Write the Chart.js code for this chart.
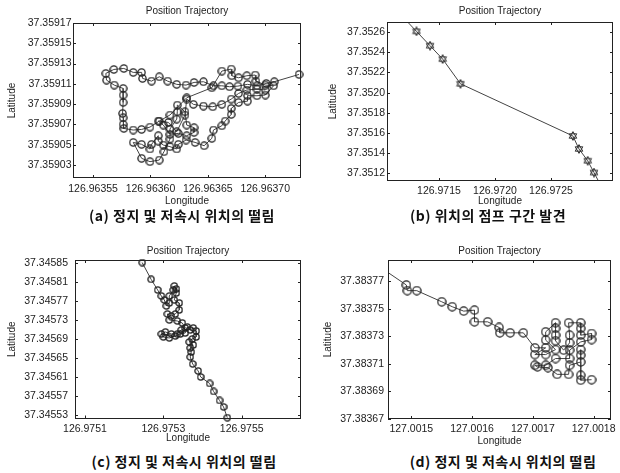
<!DOCTYPE html>
<html>
<head>
<meta charset="utf-8">
<script src="https://cdn.jsdelivr.net/npm/chart.js@4.4.1/dist/chart.umd.min.js"></script>
<style>
  html, body { margin: 0; padding: 0; background: #fff; }
  body { width: 620px; height: 473px; position: relative; overflow: hidden; }
  canvas { position: absolute; }
  .cap {
    position: absolute; white-space: nowrap; transform: translateX(-50%);
    font-family: "Noto Sans CJK KR", sans-serif; font-weight: 700; font-size: 14px;
    color: #111; line-height: 20px; letter-spacing: 0.5px;
  }
</style>
</head>
<body>
<canvas id="pa" width="310" height="212" style="left:0;top:0"></canvas>
<canvas id="pb" width="310" height="212" style="left:310px;top:0"></canvas>
<canvas id="pc" width="310" height="214" style="left:0;top:236px"></canvas>
<canvas id="pd" width="310" height="214" style="left:310px;top:236px"></canvas>
<div class="cap" style="left:182px;top:205px">(a) 정지 및 저속시 위치의 떨림</div>
<div class="cap" style="left:488px;top:205px">(b) 위치의 점프 구간 발견</div>
<div class="cap" style="left:184px;top:451px">(c) 정지 및 저속시 위치의 떨림</div>
<div class="cap" style="left:503px;top:451px">(d) 정지 및 저속시 위치의 떨림</div>
<script>
// ---- (a) stop / low-speed jitter ----
const aLon = [126.9637295, 126.9637079, 126.9637009, 126.9636928, 126.9636846, 126.9636762, 126.9636689, 126.9636622, 126.9636549, 126.9636462,
  126.963638, 126.963631, 126.9636229, 126.963615, 126.9636077, 126.963601, 126.9635931, 126.9635923, 126.963585, 126.9635768,
  126.9635681, 126.9635611, 126.9635617, 126.9635684, 126.9635762, 126.9635762, 126.9635762, 126.9635757, 126.9635762, 126.9635762,
  126.9635768, 126.963585, 126.9635923, 126.9635996, 126.9636077, 126.963617, 126.9636316, 126.9636535, 126.9636622, 126.9636704,
  126.9636709, 126.9636768, 126.963684, 126.9636913, 126.9636919, 126.9637001, 126.9637073, 126.9637001, 126.9636928, 126.9636846,
  126.9636846, 126.9636768, 126.9636704, 126.9636704, 126.9636651, 126.9636622, 126.9636549, 126.9636535, 126.9636468, 126.9636389,
  126.963631, 126.9636243, 126.9636229, 126.963617, 126.9636112, 126.9636068, 126.9636068, 126.963601, 126.9635996, 126.9635923,
  126.963585, 126.9635923, 126.9635996, 126.9636077, 126.9636118, 126.963617, 126.963617, 126.9636229, 126.9636234, 126.9636234,
  126.9636301, 126.9636316, 126.963638, 126.963638, 126.9636316, 126.9636243, 126.963617, 126.9636112, 126.9636068, 126.9636156,
  126.9636229, 126.9636301, 126.9636316, 126.9636374, 126.9636462, 126.9636543, 126.9636622, 126.9636704, 126.9636768, 126.963684,
  126.9636928, 126.9637001];
const aLat = [37.3591193, 37.3591121, 37.3591104, 37.3591081, 37.3591095, 37.3591078, 37.3591072, 37.3591081, 37.3591081, 37.3591121,
  37.3591114, 37.3591088, 37.3591095, 37.3591127, 37.359117, 37.3591127, 37.3591154, 37.3591213, 37.3591213, 37.3591252,
  37.3591242, 37.3591203, 37.3591137, 37.3591088, 37.3591055, 37.359099, 37.3590917, 37.3590809, 37.3590766, 37.3590701,
  37.3590661, 37.3590645, 37.3590651, 37.3590674, 37.3590733, 37.3590793, 37.3590963, 37.3591062, 37.3591226, 37.3591246,
  37.359118, 37.359116, 37.359118, 37.3591187, 37.3591127, 37.3591088, 37.3591081, 37.359099, 37.3590983, 37.3590983,
  37.359093, 37.3590917, 37.3590858, 37.3590799, 37.3590733, 37.3590687, 37.3590645, 37.3590563, 37.359049, 37.3590523,
  37.3590546, 37.3590504, 37.3590458, 37.3590481, 37.3590497, 37.3590536, 37.3590589, 37.3590504, 37.3590458, 37.3590504,
  37.3590523, 37.3590366, 37.3590333, 37.3590349, 37.3590431, 37.3590556, 37.3590655, 37.3590753, 37.3590825, 37.3590891,
  37.3590825, 37.3590694, 37.3590668, 37.3590622, 37.3590589, 37.3590612, 37.3590602, 37.3590694, 37.3590733, 37.359072,
  37.3590628, 37.3590793, 37.359095, 37.3590898, 37.3590881, 37.3590875, 37.3590898, 37.359095, 37.3591006, 37.3591039,
  37.3591049, 37.3591039];
const aLonTicks = [126.96355, 126.96360, 126.96365, 126.96370];
const aLatTicks = [37.35903, 37.35905, 37.35907, 37.35909, 37.35911, 37.35913, 37.35915, 37.35917];

// ---- (b) position jump ----
const bLon = [126.971133, 126.971299, 126.971420, 126.971533, 126.971692, 126.972696, 126.972750, 126.972828, 126.972884, 126.972967];
const bLat = [37.352804, 37.352608, 37.352466, 37.352333, 37.352088, 37.351570, 37.351441, 37.351324, 37.351207, 37.351033];
const bLonTicks = [126.9715, 126.9720, 126.9725];
const bLatTicks = [37.3512, 37.3514, 37.3516, 37.3518, 37.3520, 37.3522, 37.3524, 37.3526];

// ---- (c) stop / low-speed jitter ----
const cLon = [126.9752459, 126.9752688, 126.9752855, 126.9752949, 126.9753025, 126.9753076, 126.9753152, 126.9753152, 126.9753254, 126.9753279,
  126.975333, 126.975333, 126.9753279, 126.9753406, 126.9753406, 126.9753305, 126.9753203, 126.9753102, 126.9753152, 126.9753356,
  126.9753483, 126.9753559, 126.9753457, 126.9753356, 126.9753203, 126.9753051, 126.9752949, 126.9753, 126.9753152, 126.9753305,
  126.9753432, 126.9753559, 126.975361, 126.9753686, 126.9753762, 126.9753838, 126.9753838, 126.9753737, 126.975366, 126.9753762,
  126.9753686, 126.9753711, 126.9753686, 126.9753749, 126.9753889, 126.9753953, 126.9754181, 126.9754283, 126.9754435, 126.9754537,
  126.9754633];
const cLat = [37.3458504, 37.3458151, 37.3457927, 37.3457801, 37.3457717, 37.3457591, 37.3457654, 37.3457801, 37.3457927, 37.3458011,
  37.3457948, 37.3457864, 37.3457717, 37.3457654, 37.3457507, 37.3457423, 37.3457381, 37.3457423, 37.3457297, 37.3457276,
  37.3457234, 37.3457129, 37.3457087, 37.3457003, 37.3457003, 37.3457045, 37.3457003, 37.345694, 37.3456919, 37.3456961,
  37.3457003, 37.3457024, 37.345715, 37.3457087, 37.3457129, 37.3457066, 37.345694, 37.3456898, 37.3456835, 37.3456772,
  37.3456709, 37.3456625, 37.345652, 37.3456373, 37.3456226, 37.34561, 37.3455963, 37.3455795, 37.3455606, 37.345547,
  37.3455245];
const cLonTicks = [126.9751, 126.9753, 126.9755];
const cLatTicks = [37.34553, 37.34557, 37.34561, 37.34565, 37.34569, 37.34573, 37.34577, 37.34581, 37.34585];

// ---- (d) stop / low-speed jitter ----
const dLon = [127.0014487, 127.0014919, 127.0014935, 127.0015091, 127.0015501, 127.0015674, 127.0015862, 127.001604, 127.001604, 127.0016256,
  127.0016445, 127.0016456, 127.0016628, 127.0016844, 127.0017033, 127.0017211, 127.0017033, 127.0017211, 127.0017373, 127.0017211,
  127.0017211, 127.0017373, 127.0017373, 127.0017373, 127.0017373, 127.0017507, 127.0017604, 127.0017604, 127.0017588, 127.0017788,
  127.0017788, 127.0017788, 127.0017966, 127.0017966, 127.0017788, 127.0017604, 127.0017604, 127.0017373, 127.0017211, 127.0017033,
  127.0017076, 127.0017249, 127.00174, 127.0017588, 127.0017604, 127.0017788, 127.0017788, 127.0017788, 127.0017788, 127.0017788,
  127.0017966];
const dLat = [37.3837803, 37.3837673, 37.3837632, 37.3837632, 37.3837551, 37.3837515, 37.3837483, 37.383749, 37.3837405, 37.3837405,
  37.3837364, 37.3837325, 37.3837325, 37.3837325, 37.3837216, 37.3837216, 37.3837167, 37.3837167, 37.3837203, 37.3837272,
  37.3837332, 37.3837398, 37.3837357, 37.3837308, 37.3837267, 37.3837199, 37.3837252, 37.3837308, 37.3837398, 37.3837398,
  37.3837357, 37.3837308, 37.383732, 37.3837276, 37.3837259, 37.3837199, 37.3837138, 37.3837138, 37.3837089, 37.3837089,
  37.3837077, 37.3837072, 37.3837023, 37.3837023, 37.3837089, 37.3837113, 37.3837162, 37.3837203, 37.3837016, 37.383698,
  37.3836984];
const dLonTicks = [127.0015, 127.0016, 127.0017, 127.0018];
const dLatTicks = [37.38367, 37.38369, 37.38371, 37.38373, 37.38375, 37.38377];

const TXT = '#222';
const FONT = '"Liberation Sans", Arial, sans-serif';

// Marker: an open hexagram, or an open ring
function marker(size, ring) {
  const c = document.createElement('canvas');
  c.width = c.height = size;
  const g = c.getContext('2d');
  const cx = size / 2, cy = size / 2;
  if (ring) {
    g.strokeStyle = '#222';
    g.lineWidth = 1.3;
    g.beginPath();
    g.arc(cx, cy, size / 2 - 0.9, 0, Math.PI * 2);
    g.stroke();
    return c;
  }
  const r = size / 2 - 0.6;
  g.strokeStyle = '#333';
  g.lineWidth = 1;
  [-Math.PI / 2, Math.PI / 2].forEach(rot => {
    g.beginPath();
    for (let i = 0; i < 3; i++) {
      const a = rot + i * 2 * Math.PI / 3;
      const px = cx + r * Math.cos(a), py = cy + r * Math.sin(a);
      if (i) g.lineTo(px, py); else g.moveTo(px, py);
    }
    g.closePath();
    g.stroke();
  });
  return c;
}

// Box around the plot area with inward tick marks on all four sides, plus the panel title
const framePlugin = {
  id: 'frame',
  afterDraw(chart, _args, o) {
    const { ctx, chartArea: { left, top, right, bottom }, scales: { x, y } } = chart;
    ctx.save();
    ctx.strokeStyle = '#222';
    ctx.lineWidth = 1;
    ctx.strokeRect(Math.round(left) + 0.5, Math.round(top) + 0.5, Math.round(right - left) - 1, Math.round(bottom - top) - 1);
    const L = 3;
    ctx.beginPath();
    x.ticks.forEach(t => {
      const p = Math.round(x.getPixelForValue(t.value)) + 0.5;
      ctx.moveTo(p, bottom); ctx.lineTo(p, bottom - L);
      ctx.moveTo(p, top); ctx.lineTo(p, top + L);
    });
    y.ticks.forEach(t => {
      const p = Math.round(y.getPixelForValue(t.value)) + 0.5;
      ctx.moveTo(left, p); ctx.lineTo(left + L, p);
      ctx.moveTo(right, p); ctx.lineTo(right - L, p);
    });
    ctx.stroke();
    ctx.fillStyle = TXT;
    ctx.font = '10px ' + FONT;
    ctx.textAlign = 'center';
    ctx.textBaseline = 'middle';
    ctx.fillText('Position Trajectory', (left + right) / 2, o.titleY);
    ctx.restore();
  }
};

function panel(id, p) {
  const cv = document.getElementById(id);
  const W = cv.width, H = cv.height;
  const a = p.area;
  new Chart(cv, {
    type: 'scatter',
    data: {
      datasets: [{
        data: p.lon.map((v, i) => ({ x: v, y: p.lat[i] })),
        showLine: true,
        borderColor: '#444',
        borderWidth: 1,
        pointStyle: marker(p.mk, p.ring),
        pointRadius: p.mk / 2,
        clip: p.clip
      }]
    },
    options: {
      responsive: false,
      animation: false,
      events: [],
      devicePixelRatio: 1,
      layout: { padding: { left: 0, top: a.top, right: W - a.right, bottom: H - a.bottom - p.xH } },
      plugins: { legend: { display: false }, tooltip: { enabled: false }, frame: { titleY: p.titleY } },
      scales: {
        x: {
          type: 'linear', min: p.xMin, max: p.xMax,
          afterBuildTicks: s => { s.ticks = p.xTicks.map(v => ({ value: v })); },
          afterFit: s => { s.height = p.xH; },
          grid: { display: false, drawTicks: false },
          border: { display: false },
          ticks: { callback: v => Number(v).toFixed(p.xDec), color: TXT, font: { family: FONT, size: 10.5 }, padding: p.xPad, autoSkip: false, maxRotation: 0 },
          title: { display: true, text: 'Longitude', color: TXT, font: { family: FONT, size: 10 }, padding: { top: 0, bottom: 0 } }
        },
        y: {
          type: 'linear', min: p.yMin, max: p.yMax,
          afterBuildTicks: s => { s.ticks = p.yTicks.map(v => ({ value: v })); },
          afterFit: s => { s.width = a.left; },
          grid: { display: false, drawTicks: false },
          border: { display: false },
          ticks: { callback: v => Number(v).toFixed(p.yDec), color: TXT, font: { family: FONT, size: 10.5 }, padding: p.yPad, autoSkip: false },
          title: { display: true, text: 'Latitude', color: TXT, font: { family: FONT, size: 10 }, padding: { top: p.yTitlePad, bottom: 0 } }
        }
      }
    },
    plugins: [framePlugin]
  });
}

panel('pa', {
  lon: aLon, lat: aLat, xTicks: aLonTicks, yTicks: aLatTicks, xDec: 5, yDec: 5,
  xMin: 126.9635325, xMax: 126.9637312, yMin: 37.3590172, yMax: 37.3591700,
  area: { left: 73, top: 23, right: 301, bottom: 178 }, xH: 29.5, xPad: 4.5, yPad: 1.5, yTitlePad: 6.5,
  titleY: 11, mk: 9, ring: true, clip: 6
});
panel('pb', {
  lon: bLon, lat: bLat, xTicks: bLonTicks, yTicks: bLatTicks, xDec: 4, yDec: 4,
  xMin: 126.971036, xMax: 126.973054, yMin: 37.351123, yMax: 37.352701,
  area: { left: 77, top: 22, right: 303, bottom: 181 }, xH: 26.7, xPad: 3.5, yPad: 2, yTitlePad: 17,
  titleY: 11, mk: 10, ring: false, clip: 0
});
panel('pc', {
  lon: cLon, lat: cLat, xTicks: cLonTicks, yTicks: cLatTicks, xDec: 4, yDec: 5,
  xMin: 126.9750745, xMax: 126.9756514, yMin: 37.3455227, yMax: 37.3458557,
  area: { left: 75, top: 24, right: 301, bottom: 182.5 }, xH: 25.5, xPad: 4, yPad: 7, yTitlePad: 6.7,
  titleY: 15, mk: 8, ring: true, clip: 6
});
panel('pd', {
  lon: dLon, lat: dLat, xTicks: dLonTicks, yTicks: dLatTicks, xDec: 4, yDec: 5,
  xMin: 127.0014617, xMax: 127.0018286, yMin: 37.3836698, yMax: 37.3837855,
  area: { left: 78, top: 24, right: 305, bottom: 183 }, xH: 28, xPad: 4, yPad: 4, yTitlePad: 12,
  titleY: 15, mk: 10, ring: true, clip: 0
});
</script>
</body>
</html>
